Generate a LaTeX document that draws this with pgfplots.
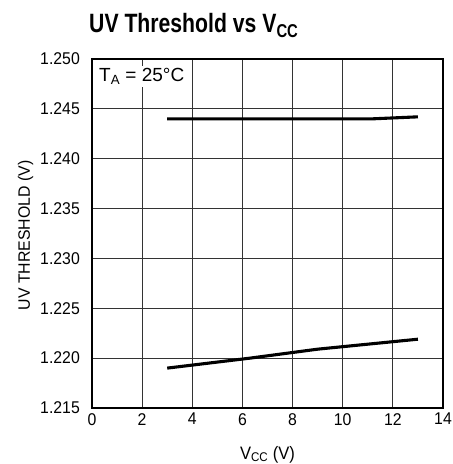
\documentclass[border=0pt]{standalone}
\usepackage{fontspec}
\setmainfont{Liberation Sans}
\newfontfamily\titlefont[FakeStretch=0.80]{Liberation Sans}
\newfontfamily\tickfont[FakeStretch=0.93]{Liberation Sans}
\newfontfamily\xlabfont[FakeStretch=0.92]{Liberation Sans}
\newfontfamily\ylabfont[FakeStretch=0.96]{Liberation Sans}
\usepackage{pgfplots}
\pgfplotsset{compat=1.18}
\begin{document}
\begin{tikzpicture}[x=1pt,y=1pt]
\begin{axis}[
  scale only axis,
  width=351pt, height=349pt,
  xmin=0, xmax=14, ymin=1.215, ymax=1.250,
  xtick={0,2,...,14},
  ytick={1.215,1.220,1.225,1.230,1.235,1.240,1.245,1.250},
  grid=major,
  major grid style={draw=black!80, line width=0.8pt},
  axis line style={line width=1.7pt},
  major tick length=0pt,
  tick style={draw=none},
  /pgf/number format/assume math mode=true,
  yticklabel style={/pgf/number format/fixed, /pgf/number format/precision=3, /pgf/number format/fixed zerofill, font=\tickfont\fontsize{17}{18}\selectfont, anchor=east, inner sep=0pt, xshift=-12pt},
  xticklabel style={font=\tickfont\fontsize{17}{18}\selectfont, anchor=north, inner sep=0pt, yshift=-5pt},
  scaled y ticks=false,
  clip=false,
]
\addplot[black, line width=3.1pt] coordinates {(3,1.2440) (6,1.24400) (9,1.24400) (11.2,1.24400) (13,1.24420)};
\addplot[black, line width=3.1pt] coordinates {(3,1.2190) (6.3,1.2200) (9,1.2209) (13,1.2219)};
\node[anchor=north west, fill=white, inner xsep=1pt, inner ysep=2pt, font=\fontsize{19}{21}\selectfont] at ([xshift=6pt,yshift=-7pt]rel axis cs:0,1) {T\textsubscript{A} = 25\textdegree C};
\node[anchor=base west, inner sep=0pt, font=\titlefont\bfseries\fontsize{26.5}{30}\selectfont] at ([xshift=-3pt,yshift=26pt]rel axis cs:0,1) {UV Threshold vs V\textsubscript{CC}};
\node[anchor=base, inner sep=0pt, font=\xlabfont\fontsize{18}{20}\selectfont] at ([yshift=-51pt]rel axis cs:0.5,0) {V\textsubscript{CC} (V)};
\node[anchor=base, rotate=90, inner sep=0pt, font=\ylabfont\fontsize{16.5}{18}\selectfont] at ([xshift=-62pt,yshift=-2pt]rel axis cs:0,0.5) {UV THRESHOLD (V)};
\path ([xshift=-92pt,yshift=-56pt]current axis.south west) rectangle ([xshift=9pt,yshift=59pt]current axis.north east);
\end{axis}
\end{tikzpicture}
\end{document}
